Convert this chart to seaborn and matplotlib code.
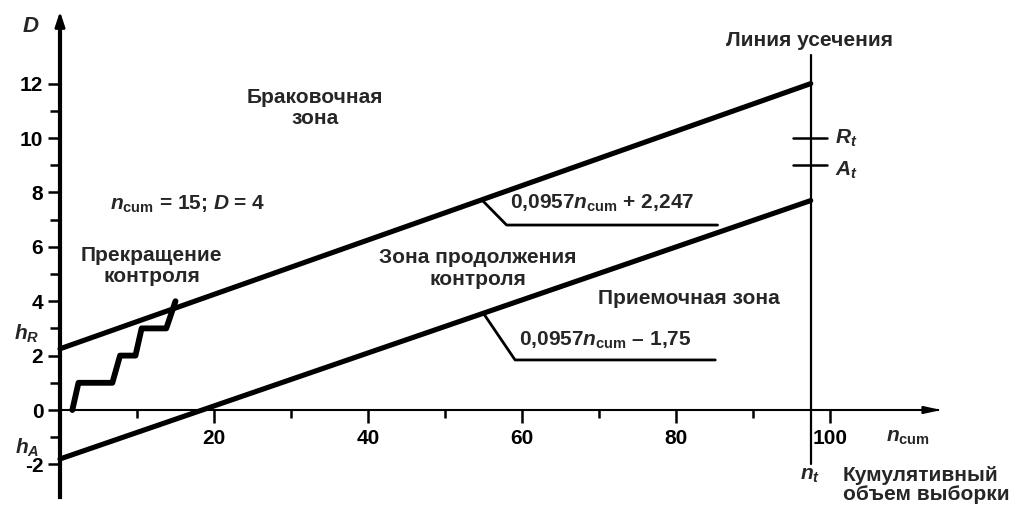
import matplotlib
matplotlib.use("Agg")
import matplotlib.pyplot as plt
import seaborn as sns
import pandas as pd
from matplotlib.ticker import FixedLocator

# ---------------- data ----------------
line_n = [0, 97.5]
upper_D = [2.25, 12.0]          # 0,0957 n_cum + 2,247 (as drawn)
lower_D = [-1.8, 7.7]           # 0,0957 n_cum - 1,75 (as drawn)
path_n = [1.6, 2.4, 6.8, 7.8, 9.8, 10.6, 13.8, 15.0]
path_D = [0, 1, 1, 2, 2, 3, 3, 4]
n_t = 97.5
trunc_D = [-2.0, 13.05]
R_t = 10
A_t = 9
y_major = [-2, 0, 2, 4, 6, 8, 10, 12]
y_minor = [-1, 1, 3, 5, 7, 9, 11]
x_major = [20, 40, 60, 80, 100]
x_minor = [10, 30, 50, 70, 90]
upper_leader_n = [54.8, 58.0, 85.4]
upper_leader_D = [7.72, 6.8, 6.8]
lower_leader_n = [55.0, 59.1, 85.1]
lower_leader_D = [3.55, 1.84, 1.84]

# ---------------- style ----------------
sns.set_style("white")
plt.rcParams['font.family'] = ['Liberation Sans', 'DejaVu Sans']
plt.rcParams['font.weight'] = 'bold'
plt.rcParams['mathtext.fontset'] = 'custom'
plt.rcParams['mathtext.rm'] = 'Liberation Sans:bold'
plt.rcParams['mathtext.it'] = 'Liberation Sans:bold:italic'
plt.rcParams['mathtext.bf'] = 'Liberation Sans:bold'
plt.rcParams['axes.unicode_minus'] = False

FS = 15
fig = plt.figure(figsize=(10.10, 5.13), dpi=100)
ax = fig.add_axes([0, 0, 1, 1])
ax.set_facecolor('white')
ax.set_xlim(-60 / 7.7, (1010 - 60) / 7.7)
ax.set_ylim(-103 / 27.2, 410 / 27.2)

lw_main = 3.7
df_u = pd.DataFrame({'n': line_n, 'D': upper_D})
df_l = pd.DataFrame({'n': line_n, 'D': lower_D})
df_p = pd.DataFrame({'n': path_n, 'D': path_D})
sns.lineplot(data=df_u, x='n', y='D', color='black', lw=lw_main, ax=ax, estimator=None)
sns.lineplot(data=df_l, x='n', y='D', color='black', lw=lw_main, ax=ax, estimator=None)
sns.lineplot(data=df_p, x='n', y='D', color='black', lw=4.2, ax=ax, estimator=None,
             sort=False)

# truncation line and R_t / A_t marks
ax.plot([n_t, n_t], trunc_D, color='black', lw=1.6)
ax.plot([n_t - 2.3, n_t + 2.1], [R_t, R_t], color='black', lw=1.8)
ax.plot([n_t - 2.3, n_t + 2.1], [A_t, A_t], color='black', lw=1.8)

# leader lines
ax.plot(upper_leader_n, upper_leader_D, color='black', lw=2)
ax.plot(lower_leader_n, lower_leader_D, color='black', lw=2)

# axes as spines through zero
for s in ['top', 'right']:
    ax.spines[s].set_visible(False)
ax.spines['left'].set_position(('data', 0))
ax.spines['bottom'].set_position(('data', 0))
ax.spines['left'].set_bounds(-3.2, 14.3)
ax.spines['bottom'].set_bounds(0, 114)
ax.spines['left'].set_linewidth(3)
ax.spines['bottom'].set_linewidth(1.5)
ax.spines['left'].set_color('black')
ax.spines['bottom'].set_color('black')
# arrow heads
ax.annotate('', xy=(0, 14.75), xytext=(0, 14.0),
            arrowprops=dict(arrowstyle='-|>,head_length=0.9,head_width=0.3', color='black', lw=2))
ax.annotate('', xy=(114.8, 0), xytext=(112.0, 0),
            arrowprops=dict(arrowstyle='-|>,head_length=1.0,head_width=0.22', color='black', lw=1.5))

ax.yaxis.set_major_locator(FixedLocator(y_major))
ax.yaxis.set_minor_locator(FixedLocator(y_minor))
ax.xaxis.set_major_locator(FixedLocator(x_major))
ax.xaxis.set_minor_locator(FixedLocator(x_minor))
ax.set_yticklabels([str(v) for v in y_major])
ax.set_xticklabels([str(v) for v in x_major])
ax.tick_params(axis='both', which='both', direction='out', color='black', width=1.8,
               labelsize=FS, labelcolor='black')
ax.tick_params(axis='y', which='major', length=9, pad=3)
ax.tick_params(axis='y', which='minor', length=7)
ax.tick_params(axis='x', which='major', length=9, pad=5)
ax.tick_params(axis='x', which='minor', length=6)
ax.tick_params(left=True, bottom=True, which='both')
for lab in ax.get_xticklabels() + ax.get_yticklabels():
    lab.set_fontweight('bold')
ax.set_xlabel('')
ax.set_ylabel('')

# texts
ncum = r'$n_{\mathrm{cum}}$'
ax.text(-3.8, 14.1, r'$D$', fontsize=FS + 1, ha='center', va='center')
ax.text(-4.3, 2.8, r'$h_R$', fontsize=FS, ha='center', va='center')
ax.text(-4.3, -1.4, r'$h_A$', fontsize=FS, ha='center', va='center')
ax.text(33.1, 11.1, 'Браковочная\nзона', fontsize=FS, ha='center', va='center', linespacing=1.15)
ax.text(6.5, 7.57, ncum + ' = 15; ' + r'$D$' + ' = 4', fontsize=FS, ha='left', va='center')
ax.text(11.9, 5.3, 'Прекращение\nконтроля', fontsize=FS, ha='center', va='center', linespacing=1.15)
ax.text(54.3, 5.2, 'Зона продолжения\nконтроля', fontsize=FS, ha='center', va='center', linespacing=1.15)
ax.text(81.7, 4.1, 'Приемочная зона', fontsize=FS, ha='center', va='center')
ax.text(97.4, 13.6, 'Линия усечения', fontsize=FS, ha='center', va='center')
ax.text(100.6, 10.0, r'$R_t$', fontsize=FS, ha='left', va='center')
ax.text(100.6, 8.8, r'$A_t$', fontsize=FS, ha='left', va='center')
ax.text(58.4, 7.6, '0,0957' + ncum + ' + 2,247', fontsize=FS, ha='left', va='center')
ax.text(59.6, 2.57, '0,0957' + ncum + ' – 1,75', fontsize=FS, ha='left', va='center')
ax.text(110.1, -1.0, ncum, fontsize=FS, ha='center', va='center')
ax.text(97.4, -2.4, r'$n_t$', fontsize=FS, ha='center', va='center')
ax.text(101.7, -2.76, 'Кумулятивный\nобъем выборки', fontsize=FS, ha='left', va='center',
        linespacing=1.05)

fig.savefig('out.png', dpi=100, facecolor='white')
